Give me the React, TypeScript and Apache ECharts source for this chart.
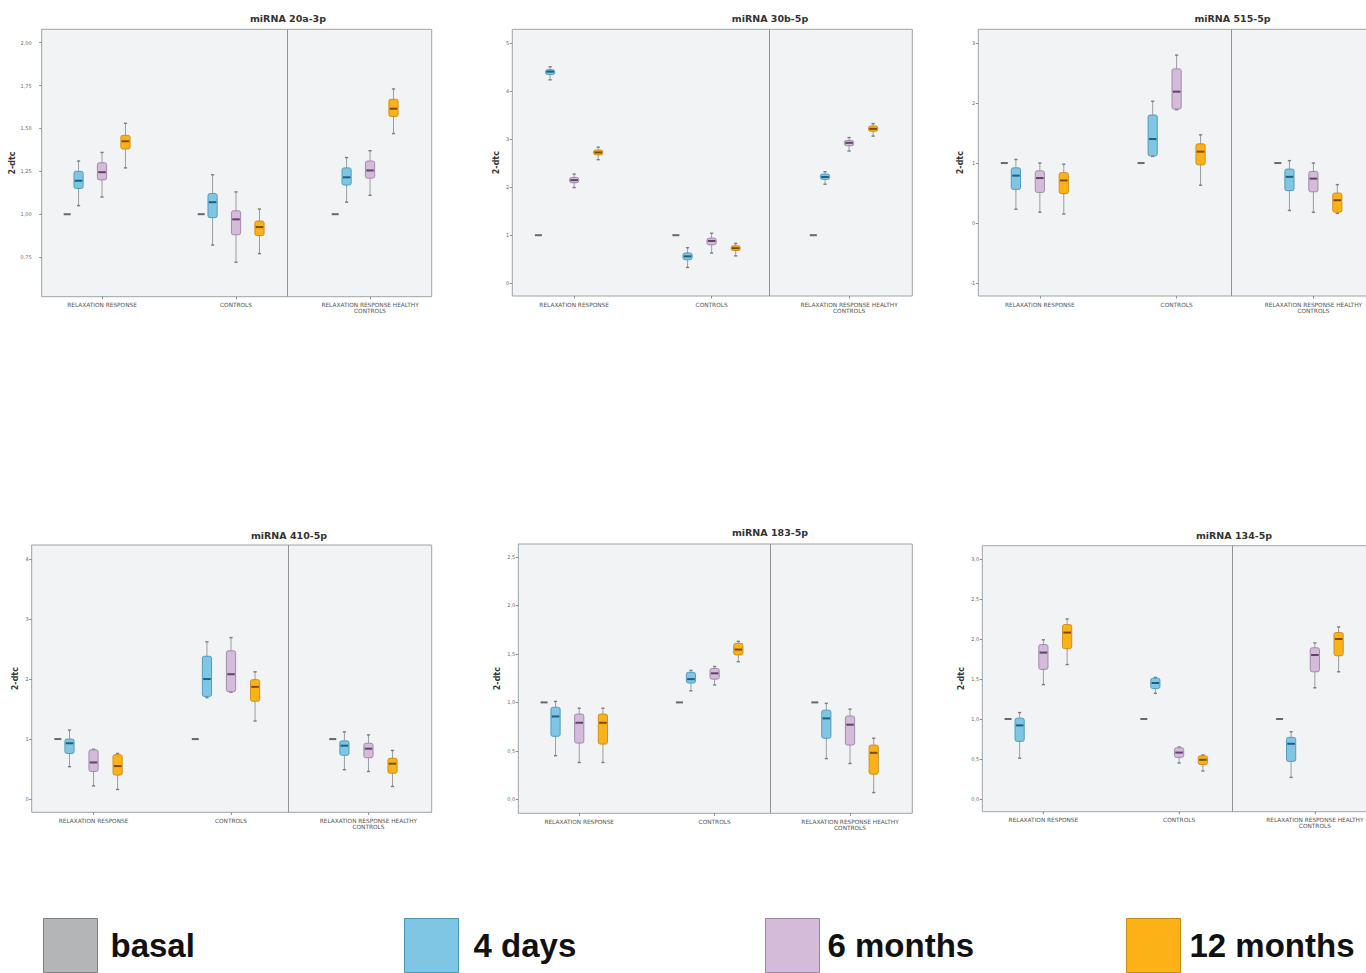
import React, { useEffect, useRef } from "react";
import * as echarts from "echarts";

// ---------- data ----------
const categories = ["RELAXATION RESPONSE", "CONTROLS", "RELAXATION RESPONSE HEALTHY\nCONTROLS"];
const groups = ["basal", "4 days", "6 months", "12 months"];
const titles = ["miRNA 20a-3p", "miRNA 30b-5p", "miRNA 515-5p", "miRNA 410-5p", "miRNA 183-5p", "miRNA 134-5p"];
const yName = "2-dtc";

// each row: [min, Q1, median, Q3, max] for RELAXATION RESPONSE, CONTROLS, RR HEALTHY CONTROLS
const basal = [[1, 1, 1, 1, 1], [1, 1, 1, 1, 1], [1, 1, 1, 1, 1]];

const mir20a_4d = [[1.05, 1.15, 1.195, 1.25, 1.31], [0.82, 0.98, 1.07, 1.12, 1.23], [1.07, 1.17, 1.215, 1.27, 1.33]];
const mir20a_6m = [[1.10, 1.20, 1.245, 1.30, 1.36], [0.72, 0.88, 0.97, 1.02, 1.13], [1.11, 1.21, 1.255, 1.31, 1.37]];
const mir20a_12m = [[1.27, 1.38, 1.425, 1.46, 1.53], [0.77, 0.875, 0.925, 0.96, 1.03], [1.47, 1.57, 1.615, 1.67, 1.73]];

const mir30b_4d = [[4.23, 4.34, 4.40, 4.44, 4.50], [0.33, 0.49, 0.56, 0.63, 0.74], [2.06, 2.16, 2.21, 2.27, 2.32]];
const mir30b_6m = [[1.99, 2.09, 2.145, 2.20, 2.27], [0.63, 0.80, 0.88, 0.94, 1.04], [2.75, 2.86, 2.92, 2.97, 3.03]];
const mir30b_12m = [[2.57, 2.67, 2.72, 2.77, 2.83], [0.57, 0.68, 0.73, 0.78, 0.83], [3.06, 3.16, 3.21, 3.27, 3.32]];

const mir515_4d = [[0.23, 0.56, 0.79, 0.92, 1.06], [1.11, 1.12, 1.40, 1.80, 2.03], [0.21, 0.54, 0.77, 0.90, 1.04]];
const mir515_6m = [[0.18, 0.51, 0.75, 0.87, 1.00], [1.89, 1.90, 2.19, 2.57, 2.80], [0.18, 0.52, 0.74, 0.86, 1.00]];
const mir515_12m = [[0.15, 0.49, 0.71, 0.84, 0.98], [0.63, 0.97, 1.19, 1.32, 1.47], [0.16, 0.18, 0.38, 0.50, 0.64]];

const mir410_4d = [[0.54, 0.76, 0.93, 1.00, 1.15], [1.69, 1.71, 2.00, 2.38, 2.62], [0.49, 0.73, 0.89, 0.97, 1.12]];
const mir410_6m = [[0.22, 0.46, 0.61, 0.82, 0.83], [1.78, 1.79, 2.08, 2.47, 2.69], [0.46, 0.69, 0.84, 0.93, 1.07]];
const mir410_12m = [[0.16, 0.40, 0.55, 0.74, 0.76], [1.30, 1.63, 1.87, 1.99, 2.12], [0.21, 0.43, 0.59, 0.68, 0.81]];

const mir183_4d = [[0.45, 0.65, 0.855, 0.95, 1.01], [1.12, 1.20, 1.24, 1.31, 1.33], [0.42, 0.63, 0.835, 0.92, 0.99]];
const mir183_6m = [[0.38, 0.58, 0.79, 0.88, 0.94], [1.18, 1.24, 1.30, 1.35, 1.37], [0.37, 0.56, 0.77, 0.86, 0.93]];
const mir183_12m = [[0.38, 0.57, 0.79, 0.88, 0.94], [1.42, 1.49, 1.545, 1.61, 1.63], [0.07, 0.26, 0.48, 0.56, 0.63]];

const mir134_4d = [[0.51, 0.72, 0.92, 1.01, 1.08], [1.32, 1.38, 1.45, 1.51, 1.52], [0.27, 0.47, 0.69, 0.77, 0.84]];
const mir134_6m = [[1.43, 1.62, 1.83, 1.93, 1.99], [0.45, 0.52, 0.58, 0.64, 0.65], [1.39, 1.59, 1.80, 1.89, 1.95]];
const mir134_12m = [[1.68, 1.88, 2.08, 2.18, 2.25], [0.35, 0.43, 0.49, 0.54, 0.55], [1.59, 1.79, 2.00, 2.08, 2.15]];

const panelData = [
  [basal, mir20a_4d, mir20a_6m, mir20a_12m],
  [basal, mir30b_4d, mir30b_6m, mir30b_12m],
  [basal, mir515_4d, mir515_6m, mir515_12m],
  [basal, mir410_4d, mir410_6m, mir410_12m],
  [basal, mir183_4d, mir183_6m, mir183_12m],
  [basal, mir134_4d, mir134_6m, mir134_12m],
];

// y-axis tick labels
const yTicks = [
  [0.75, 1, 1.25, 1.5, 1.75, 2],
  [0, 1, 2, 3, 4, 5],
  [-1, 0, 1, 2, 3],
  [0, 1, 2, 3, 4],
  [0, 0.5, 1, 1.5, 2, 2.5],
  [0, 0.5, 1, 1.5, 2, 2.5, 3],
];
const yDecimals = [2, 0, 0, 0, 1, 1];
const yRanges = [
  [0.519, 2.078],
  [-0.264, 5.28],
  [-1.217, 3.23],
  [-0.22, 4.233],
  [-0.144, 2.634],
  [-0.159, 3.166],
];

// ---------- layout / style ----------
const grids = [
  { left: 41.7, top: 29.3, width: 390, height: 267.4 },
  { left: 512.3, top: 29.3, width: 400, height: 266.7 },
  { left: 978.3, top: 29.3, width: 398, height: 266.7 },
  { left: 31.7, top: 545, width: 400, height: 267.3 },
  { left: 518.3, top: 544, width: 394, height: 269.3 },
  { left: 982.3, top: 545.7, width: 395, height: 266 },
];
const titlePos = [[288, 18.3], [770, 18.3], [1232.5, 18.3], [289, 535], [770, 532.7], [1234, 535]];
const nameGaps = [18, 12, 14, 12, 17, 17];
const yLabelMargins = [10, 3, 3, 3, 3, 3];
const sepX = [1.382, 1.42, 1.40, 1.416, 1.405, 1.39];
const xMin = -0.45;
const xMax = 2.46;
const groupOffset = [-0.26, -0.175, 0, 0.175];

const fills = ["#b3b5b6", "#7fc6e4", "#d4bbda", "#fcb217"];
const borders = ["#6d6f70", "#4a96b8", "#9c82a5", "#c98a10"];
const medians = ["#606264", "#1d5f80", "#5f4468", "#7a4c00"];
const legendLeft = [43, 404, 765, 1126];
const legendTextPad = [8, 10, 3, 4];

const fmt = (v: number, d: number) => v.toFixed(d).replace(".", ",");

function makeRender(g: number) {
  return (params: any, api: any) => {
    const x = api.value(0);
    const mn = api.value(1), q1 = api.value(2), md = api.value(3), q3 = api.value(4), mx = api.value(5);
    const pMin = api.coord([x, mn]);
    const pMax = api.coord([x, mx]);
    const pQ1 = api.coord([x, q1]);
    const pQ3 = api.coord([x, q3]);
    const pMd = api.coord([x, md]);
    const cx = pMd[0];
    if (g === 0) {
      return {
        type: "rect",
        shape: { x: cx - 3.5, y: pMd[1] - 1, width: 7, height: 2 },
        style: { fill: "#66686a" },
      };
    }
    const hw = 4.6;
    return {
      type: "group",
      children: [
        { type: "line", shape: { x1: cx, y1: pMax[1], x2: cx, y2: pMin[1] }, style: { stroke: "#9a9ea0", lineWidth: 1 } },
        { type: "line", shape: { x1: cx - 1.6, y1: pMax[1], x2: cx + 1.6, y2: pMax[1] }, style: { stroke: "#7a7e80", lineWidth: 1.4 } },
        { type: "line", shape: { x1: cx - 1.6, y1: pMin[1], x2: cx + 1.6, y2: pMin[1] }, style: { stroke: "#7a7e80", lineWidth: 1.4 } },
        {
          type: "rect",
          shape: { x: cx - hw, y: pQ3[1], width: hw * 2, height: Math.max(pQ1[1] - pQ3[1], 1), r: 2 },
          style: { fill: fills[g], stroke: borders[g], lineWidth: 0.9 },
        },
        { type: "line", shape: { x1: cx - hw + 0.8, y1: pMd[1], x2: cx + hw - 0.8, y2: pMd[1] }, style: { stroke: medians[g], lineWidth: 2 } },
      ],
    };
  };
}

export default function App() {
  const ref = useRef<HTMLDivElement>(null);
  useEffect(() => {
    if (!ref.current) return;
    const chart = echarts.init(ref.current, undefined, { renderer: "svg" });

    const grid = grids.map((g) => ({
      ...g,
      show: true,
      containLabel: false,
      outerBoundsMode: "none",
      backgroundColor: "#f1f3f4",
      borderColor: "#9ea3a6",
      borderWidth: 1,
    }));

    const xAxis = grids.map((_, p) => ({
      type: "value",
      gridIndex: p,
      min: xMin,
      max: xMax,
      axisLine: { show: false, onZero: false },
      splitLine: { show: false },
      axisTick: { show: true, length: 2.5, customValues: [0, 1, 2], lineStyle: { color: "#8a8e90" } },
      axisLabel: {
        show: true,
        customValues: [0, 1, 2],
        formatter: (v: number) => categories[Math.round(v)] ?? "",
        fontSize: 5.8,
        lineHeight: 6,
        color: "#555",
        fontFamily: "DejaVu Sans",
        margin: 5.5,
        hideOverlap: false,
      },
    }));

    const yAxis = grids.map((_, p) => ({
      type: "value",
      gridIndex: p,
      min: yRanges[p][0],
      max: yRanges[p][1],
      name: yName,
      nameLocation: "middle",
      nameRotate: 90,
      nameGap: nameGaps[p],
      nameTextStyle: { fontSize: 8, fontWeight: "bold", color: "#333", fontFamily: "DejaVu Sans" },
      axisLine: { show: false, onZero: false },
      splitLine: { show: false },
      axisTick: { show: true, length: 2.5, customValues: yTicks[p], lineStyle: { color: "#8a8e90" } },
      axisLabel: {
        show: true,
        customValues: yTicks[p],
        formatter: (v: number) => fmt(v, yDecimals[p]),
        fontSize: 5,
        color: "#666",
        fontFamily: "DejaVu Sans",
        margin: yLabelMargins[p],
      },
    }));

    const title = titles.map((t, p) => ({
      text: t,
      left: titlePos[p][0],
      top: titlePos[p][1],
      textAlign: "center",
      textVerticalAlign: "middle",
      padding: 0,
      textStyle: { fontSize: 9.5, fontWeight: "bold", color: "#333", fontFamily: "DejaVu Sans" },
    }));

    const series: any[] = [];
    panelData.forEach((gs, p) => {
      gs.forEach((vals, g) => {
        const s: any = {
          type: "custom",
          name: groups[g],
          xAxisIndex: p,
          yAxisIndex: p,
          itemStyle: { color: fills[g], borderColor: borders[g] },
          encode: { x: 0, y: [1, 2, 3, 4, 5] },
          data: vals.map((v, ci) => [ci + groupOffset[g], ...v]),
          renderItem: makeRender(g),
          silent: true,
        };
        if (g === 0) {
          s.markLine = {
            silent: true,
            symbol: "none",
            label: { show: false },
            lineStyle: { color: "#8e9396", width: 1, type: "solid" },
            data: [{ xAxis: sepX[p] }],
          };
        }
        series.push(s);
      });
    });

    const legend = groups.map((g, i) => ({
      data: [{ name: g, icon: "rect", itemStyle: { color: fills[i], borderColor: i === 0 ? "#7d7f80" : borders[i], borderWidth: 1 } }],
      left: legendLeft[i],
      top: 918,
      padding: 0,
      itemWidth: 54,
      itemHeight: 54,
      selectedMode: false,
      textStyle: { fontSize: 33, fontWeight: "bold", color: "#111", fontFamily: "Liberation Sans", padding: [0, 0, 0, legendTextPad[i]] },
    }));

    chart.setOption({
      animation: false,
      backgroundColor: "#ffffff",
      title,
      grid,
      xAxis,
      yAxis,
      legend,
      series,
    });
    return () => chart.dispose();
  }, []);
  return <div ref={ref} style={{ position: "absolute", left: 0, top: 0, width: 1366, height: 973 }} />;
}
